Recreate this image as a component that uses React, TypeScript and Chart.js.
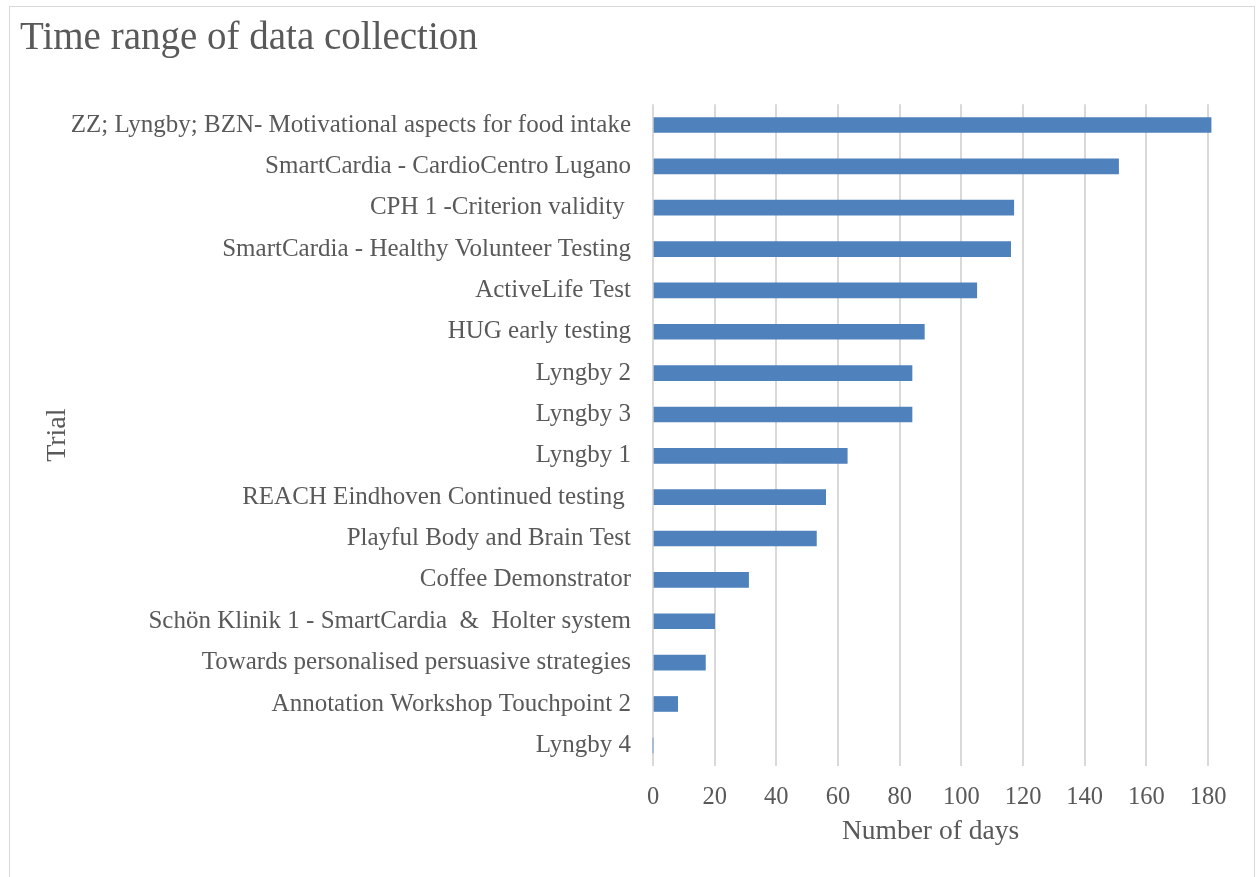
import React, { useEffect, useRef } from "react";
import { Chart, registerables } from "chart.js";

Chart.register(...registerables);

// Trials, listed top to bottom
const trials: string[] = [
  "ZZ; Lyngby; BZN- Motivational aspects for food intake",
  "SmartCardia - CardioCentro Lugano",
  "CPH 1 -Criterion validity ",
  "SmartCardia - Healthy Volunteer Testing",
  "ActiveLife Test",
  "HUG early testing",
  "Lyngby 2",
  "Lyngby 3",
  "Lyngby 1",
  "REACH Eindhoven Continued testing ",
  "Playful Body and Brain Test",
  "Coffee Demonstrator",
  "Schön Klinik 1 - SmartCardia  &  Holter system",
  "Towards personalised persuasive strategies",
  "Annotation Workshop Touchpoint 2",
  "Lyngby 4",
];

// Duration of data collection per trial, in days
const days: number[] = [181, 151, 117, 116, 105, 88, 84, 84, 63, 56, 53, 31, 20, 17, 8, 0];

const xMin = 0;
const xMax = 180;
const xStep = 20;

const FONT = "'Liberation Serif', serif";
const TEXT = "#595959";

export default function App() {
  const canvasRef = useRef<HTMLCanvasElement | null>(null);

  useEffect(() => {
    const canvas = canvasRef.current;
    if (!canvas) return;
    const chart = new Chart(canvas, {
      type: "bar",
      data: {
        labels: trials,
        datasets: [
          {
            label: "Number of days",
            data: days,
            backgroundColor: "#4f81bd",
            borderWidth: 0,
            barThickness: 15,
            clip: false,
          },
        ],
      },
      options: {
        indexAxis: "y",
        responsive: false,
        animation: false,
        layout: { padding: { left: 20, right: 49, top: 0, bottom: 0 } },
        plugins: {
          legend: { display: false },
          tooltip: { enabled: false },
          title: {
            display: true,
            text: "Time range of data collection",
            align: "start",
            color: TEXT,
            font: { family: FONT, size: 39, weight: "normal" },
            padding: { top: 15.6, bottom: 41.9 },
          },
        },
        scales: {
          x: {
            min: xMin,
            max: xMax,
            afterFit: (scale: any) => {
              scale.height = 111;
            },
            ticks: {
              stepSize: xStep,
              color: TEXT,
              padding: 17,
              font: { family: FONT, size: 24.5 },
            },
            grid: { color: "#d9d9d9", lineWidth: 2, drawTicks: false },
            border: { display: false },
            title: {
              display: true,
              text: "Number of days",
              color: TEXT,
              font: { family: FONT, size: 27.5 },
              padding: { top: 0, bottom: 29 },
            },
          },
          y: {
            afterFit: (scale: any) => {
              scale.width = 633;
            },
            ticks: {
              color: TEXT,
              padding: 22,
              autoSkip: false,
              font: { family: FONT, size: 25 },
            },
            grid: { display: false, drawTicks: false },
            border: { display: false },
            title: {
              display: true,
              text: "Trial",
              color: TEXT,
              font: { family: FONT, size: 28 },
              padding: { top: 21, bottom: 0 },
            },
          },
        },
      },
    });
    return () => chart.destroy();
  }, []);

  return (
    <div style={{ position: "absolute", left: 0, top: 0, width: 1257, height: 877, background: "#ffffff", overflow: "hidden" }}>
      <canvas ref={canvasRef} width={1257} height={877} style={{ display: "block" }} />
      <div
        style={{
          position: "absolute",
          left: 9,
          top: 6,
          width: 1246,
          height: 900,
          border: "1px solid #d9d9d9",
          boxSizing: "border-box",
          pointerEvents: "none",
        }}
      />
    </div>
  );
}
